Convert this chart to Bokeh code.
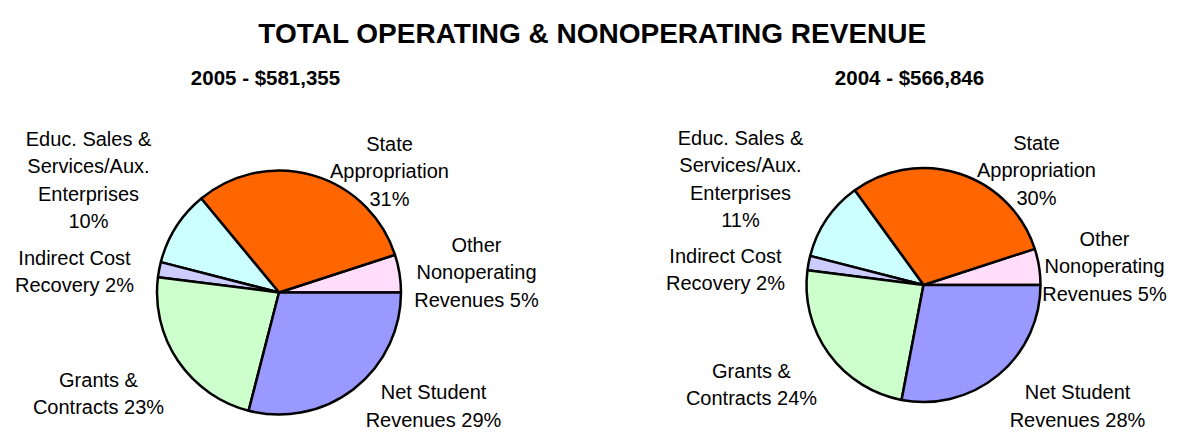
import math
from bokeh.plotting import figure
from bokeh.models import Range1d, ColumnDataSource
from bokeh.embed import file_html
from bokeh.resources import INLINE
from bokeh.core.properties import value

# ---------------- data ----------------
title = "TOTAL OPERATING & NONOPERATING REVENUE"
years = ["2005", "2004"]
totals = ["$581,355", "$566,846"]

categories = [
    "Other Nonoperating Revenues",
    "State Appropriation",
    "Educ. Sales & Services/Aux. Enterprises",
    "Indirect Cost Recovery",
    "Grants & Contracts",
    "Net Student Revenues",
]
# label line templates ({v} = percent)
label_templates = [
    ["Other", "Nonoperating", "Revenues {v}%"],
    ["State", "Appropriation", "{v}%"],
    ["Educ. Sales &", "Services/Aux.", "Enterprises", "{v}%"],
    ["Indirect Cost", "Recovery {v}%"],
    ["Grants &", "Contracts {v}%"],
    ["Net Student", "Revenues {v}%"],
]
values_2005 = [5, 31, 10, 2, 23, 29]
values_2004 = [5, 30, 11, 2, 24, 28]
colors = ["#FFDDFB", "#FF6600", "#CCFFFF", "#CCCCFF", "#CCFFCC", "#9999FF"]

# ---------------- layout (picture pixel coords, origin top-left) ----------------
W, H = 1167, 431


def Y(img_y):
    # convert a picture pixel row to data y (data y increases upward)
    return H - img_y


pies = [
    dict(values=values_2005, cx=278.5, cy=292, r=122, sub_x=265,
         label_pos=[(476, 244), (389, 143), (88, 138), (74, 257), (98, 379), (433, 391.5)]),
    dict(values=values_2004, cx=923, cy=284.5, r=117, sub_x=909,
         label_pos=[(1104, 238), (1036, 142), (740, 137), (725, 255), (751, 370), (1077, 391.5)]),
]
LINE_SP = 27.5
FONT = "Liberation Sans"

p = figure(width=W, height=H, output_backend="svg", toolbar_location=None,
           x_range=Range1d(0, W), y_range=Range1d(0, H),
           min_border=0, outline_line_color=None, background_fill_color="white")
p.axis.visible = False
p.grid.visible = False

# title
p.text(x=[592], y=[Y(33)], text=[title], text_align="center",
       text_baseline="alphabetic", text_font=value(FONT), text_font_style="bold",
       text_font_size="28px", text_color="black")

for i, pie in enumerate(pies):
    vals = pie["values"]
    total = sum(vals)
    starts, ends = [], []
    acc = 0.0
    for v in vals:
        starts.append(2 * math.pi * acc / total)
        acc += v
        ends.append(2 * math.pi * acc / total)
    src = ColumnDataSource(dict(start=starts, end=ends, color=colors, cat=categories))
    p.wedge(x=pie["cx"], y=Y(pie["cy"]), radius=pie["r"], radius_units="data",
            start_angle="start", end_angle="end", fill_color="color",
            line_color="black", line_width=2.5, source=src)

    # subtitle
    p.text(x=[pie["sub_x"]], y=[Y(77)], text=[f"{years[i]} - {totals[i]}"],
           text_align="center", text_baseline="alphabetic", text_font=value(FONT),
           text_font_style="bold", text_font_size="20.5px", text_color="black")

    # labels
    lx, ly, lt = [], [], []
    for tmpl, v, (px, py) in zip(label_templates, vals, pie["label_pos"]):
        for k, line in enumerate(tmpl):
            lx.append(px)
            ly.append(Y(py + k * LINE_SP))
            lt.append(line.format(v=v))
    p.text(x=lx, y=ly, text=lt, text_align="center", text_baseline="alphabetic",
           text_font=value(FONT), text_font_size="20px", text_color="black")

open("out.html", "w").write(file_html(p, INLINE))
